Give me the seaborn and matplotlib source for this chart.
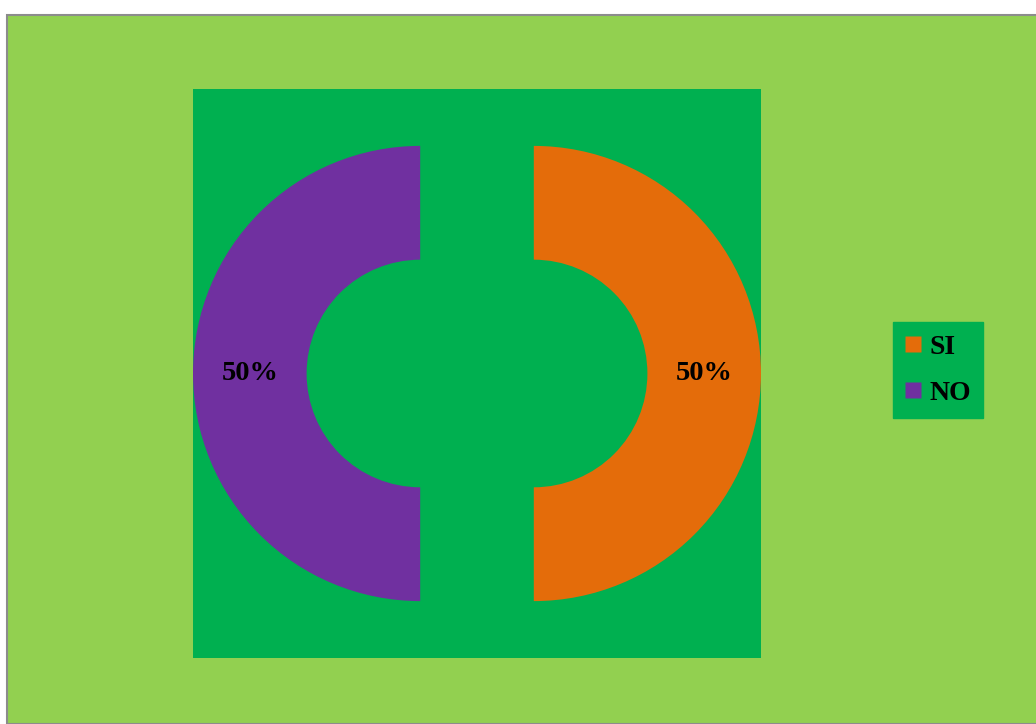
import matplotlib
matplotlib.use("Agg")
import matplotlib.pyplot as plt
from matplotlib.patches import Rectangle
from matplotlib.lines import Line2D
import seaborn as sns

categories = ["SI", "NO"]
values = [50, 50]
pct_labels = ["50%", "50%"]

sns.set_style("white")
plt.rcParams['font.family'] = ['Liberation Serif', 'DejaVu Serif']

palette = sns.color_palette(["#E46C0A", "#7030A0"])
W, H = 1036, 724
fig = plt.figure(figsize=(W / 100, H / 100), dpi=100, facecolor="white")

# chart area background with gray border
fig.patches.append(Rectangle((7 / W, 0), (W - 7 + 5) / W, (H - 15) / H,
                             transform=fig.transFigure, facecolor="#92D050",
                             edgecolor="#8C8C8C", linewidth=1.5, zorder=-10))

ax = fig.add_axes([193 / W, (H - 658) / H, 568 / W, 569 / H])
ax.set_zorder(5)
ax.set_facecolor("#00B050")
for s in ax.spines.values():
    s.set_visible(False)

wedges, texts, autotexts = ax.pie(
    values, colors=palette, startangle=-90, counterclock=True,
    explode=[0.25, 0.25], radius=1.0,
    wedgeprops=dict(width=0.5, edgecolor="none"),
    autopct=lambda p: "", pctdistance=0.75, frame=True)
for at, lab in zip(autotexts, pct_labels):
    at.set_text(lab)
    at.set_fontsize(20.5)
    at.set_fontweight("bold")
    at.set_color("black")
ax.set_xlim(-1.25, 1.25)
ax.set_ylim(-1.25, 1.25)
ax.set_xticks([])
ax.set_yticks([])
ax.set_aspect("auto")

handles = [Line2D([0], [0], marker="s", linestyle="none", markersize=11,
                  markerfacecolor=c, markeredgecolor="none") for c in palette]
leg = fig.legend(handles, categories, loc="center",
                 bbox_to_anchor=(938 / W, 1 - 370 / H),
                 prop=dict(family="Liberation Serif", weight="bold", size=20),
                 labelcolor="black",
                 frameon=True, fancybox=False, framealpha=1,
                 facecolor="#00B050", edgecolor="#00B050",
                 labelspacing=0.75, handlelength=0.6, handletextpad=0.3,
                 borderpad=0.42, borderaxespad=0)
leg.set_zorder(6)

fig.savefig("out.png", dpi=100, facecolor="white")
